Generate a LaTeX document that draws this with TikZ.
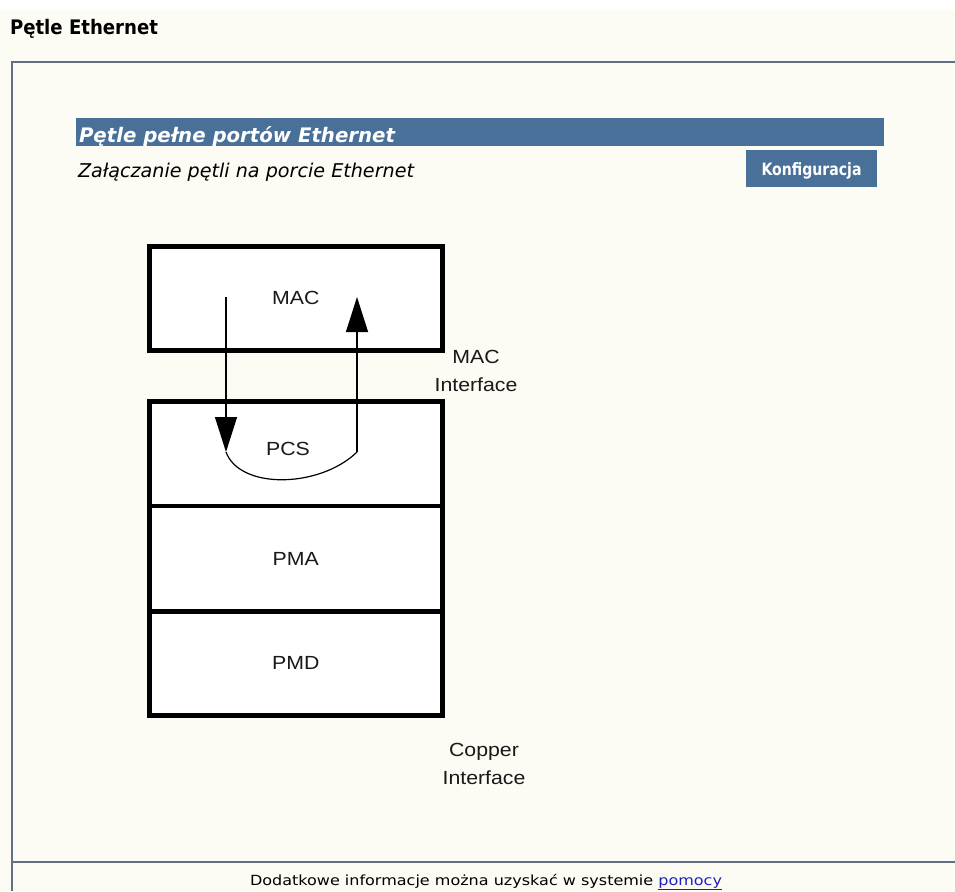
\documentclass[tikz,border=0pt]{standalone}
\usepackage{fontspec}
\usepackage{graphicx}
\setmainfont{DejaVu Sans}
\newfontfamily\arialf{Liberation Sans}
\usetikzlibrary{arrows.meta}
\newcommand\fitw[2]{\resizebox{#1}{\height}{#2}}
\newcommand\wide[1]{\scalebox{1.12}[1]{#1}}
\definecolor{bg}{RGB}{252,251,244}
\definecolor{barblue}{RGB}{72,112,152}
\definecolor{framecol}{RGB}{96,113,132}
\definecolor{linkblue}{RGB}{32,32,192}
\begin{document}
\begin{tikzpicture}[x=1pt,y=-1pt,
  txt/.style={inner sep=0pt, outer sep=0pt},
  layer/.style={draw=black, line width=4.5pt, fill=white, minimum width=293pt,
    inner sep=0pt, anchor=north west, text=black!90,
    font=\arialf\fontsize{19}{22}\selectfont},
  lbl/.style={inner sep=0pt, align=center, text=black!90,
    font=\arialf\fontsize{19}{28.5}\selectfont},
  flow/.style={line width=1.2pt, draw=black},
  flowtip/.style={flow, -{Triangle[width=22pt,length=35pt]}},
  bluebox/.style={fill=barblue, draw=none, inner sep=0pt, anchor=north west},
  framelinestyle/.style={draw=framecol, line width=2.5pt}
]
\fill[bg] (0,0) rectangle (955,891);
\fill[white] (0,0) rectangle (955,10);
\useasboundingbox (0,0) rectangle (955,891);

% page title
\node[txt, anchor=base west, font=\fontsize{20}{24}\selectfont] (title) at (10,35)
  {\fitw{148pt}{\bfseries Pętle Ethernet}};

% frame
\draw[framelinestyle] (955,62) -- (12,62) -- (12,891);
\draw[framelinestyle] (12,862) -- (955,862);

% header bar
\node[bluebox, minimum width=808pt, minimum height=28pt] (bar) at (76,118) {};
\node[txt, anchor=base west, text=white, font=\fontsize{20}{24}\selectfont] (bartxt) at (79,142)
  {\fitw{316pt}{\bfseries\itshape Pętle pełne portów Ethernet}};

% subtitle
\node[txt, anchor=base west, text=black, font=\fontsize{19}{23}\selectfont] (sub) at (78,177)
  {\fitw{336pt}{\itshape Załączanie pętli na porcie Ethernet}};

% button
\node[bluebox, minimum width=131pt, minimum height=37pt] (btn) at (746,150) {};
\node[txt, anchor=base, text=white, font=\fontsize{17}{20}\selectfont] (btntxt) at (811.5,175)
  {\fitw{100pt}{\bfseries Konfiguracja}};

% diagram layers
\node[layer, minimum height=104pt] (mac) at (147,244) {\wide{MAC}};
\node[layer, minimum height=104.5pt] (pcs) at (147,399) {};
\node[layer, minimum height=105.5pt] (pma) at (147,503.5) {\wide{PMA}};
\node[layer, minimum height=104pt] (pmd) at (147,609) {\wide{PMD}};
\node[txt, text=black!90, font=\arialf\fontsize{19}{22}\selectfont] (pcstxt) at (288,449) {\wide{PCS}};

% side labels
\node[lbl] (macif) at (476,371) {\wide{MAC}\\\wide{Interface}};
\node[lbl] (cuif) at (484,764) {\wide{Copper}\\\wide{Interface}};

% loop arrows
\coordinate (dA) at (226,297);
\coordinate (dB) at (226,452);
\coordinate (uA) at (357,452);
\coordinate (uB) at (357,297);
\draw[flowtip] (dA) -- (dB);
\draw[flowtip] (uA) -- (uB);
\draw[flow] (dB) .. controls (240,490) and (320,488) .. (uA);

% footer
\node[txt, anchor=base west, text=black, font=\fontsize{14}{17}\selectfont] (foot) at (250,885)
  {\fitw{472pt}{Dodatkowe informacje można uzyskać w systemie \textcolor{linkblue}{\underline{pomocy}}}};
\end{tikzpicture}
\end{document}
